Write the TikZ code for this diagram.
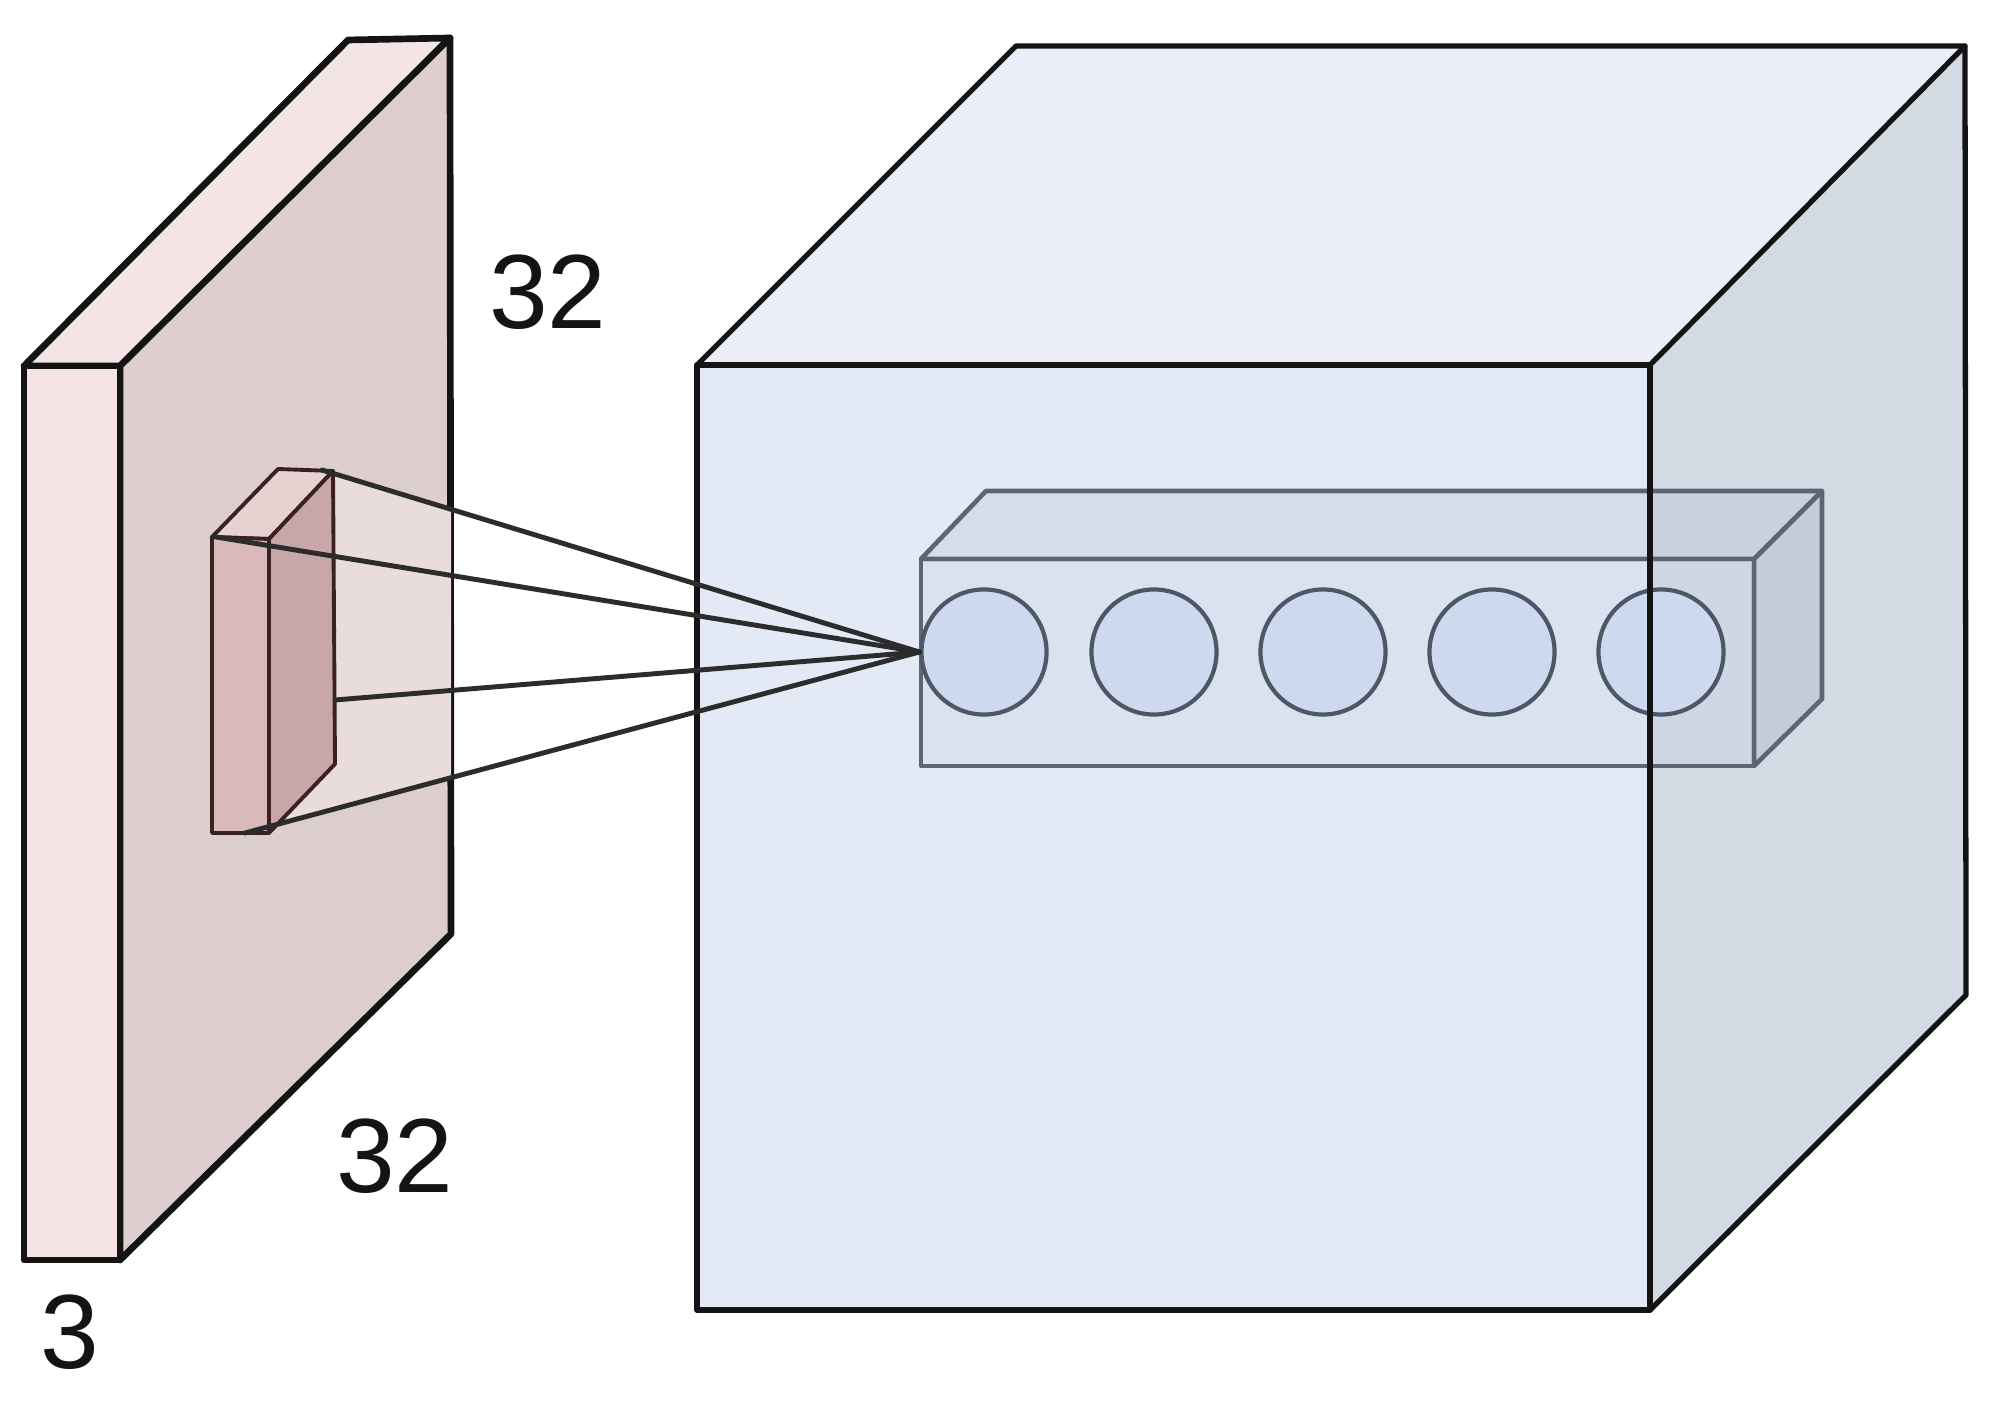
\documentclass[tikz,border=0pt]{standalone}
\usepackage{fontspec}
\setmainfont{Liberation Sans}
\begin{document}
\begin{tikzpicture}[x=0.01cm,y=-0.01cm,line join=round,line cap=round]
\definecolor{slabfront}{HTML}{F6E4E4}
\definecolor{slabtop}{HTML}{F3E5E5}
\definecolor{slabside}{HTML}{DCCECE}
\definecolor{boxfront}{HTML}{D9B9B9}
\definecolor{boxside}{HTML}{C9A6A8}
\definecolor{boxtop}{HTML}{E7D2D2}
\definecolor{cone}{HTML}{E8DCDC}
\definecolor{cubefront}{HTML}{E4EAF5}
\definecolor{cubetop}{HTML}{EBEEF8}
\definecolor{cubeside}{HTML}{D3DAE4}
\definecolor{barfront}{HTML}{C3CFE4}
\definecolor{bartop}{HTML}{B9C5D5}
\definecolor{barside}{HTML}{B0B9C6}
\definecolor{barline}{HTML}{5B6673}
\definecolor{neuronfill}{HTML}{CED9F0}
\definecolor{neuronline}{HTML}{4D5866}
\definecolor{edge}{HTML}{141414}
\definecolor{boxedge}{HTML}{3A2222}
\tikzset{
  slabface/.style={draw=edge,line width=1.9pt},
  boxface/.style={draw=boxedge,line width=1.1pt},
  cubeedge/.style={draw=edge,line width=1.5pt},
  barface/.style={draw=barline,line width=1.3pt},
  neuron/.style={circle,draw=neuronline,fill=neuronfill,line width=1.2pt,minimum size=1.25cm,inner sep=0pt},
  conn/.style={draw=edge!90,line width=1.4pt},
  dimlabel/.style={font=\fontsize{30}{36}\selectfont,inner sep=0pt,text=edge}
}
\useasboundingbox (0,0) rectangle (2000,1410);
\fill[white] (0,0) rectangle (2000,1410);

% ---- input slab 32x32x3 ----
\coordinate (sA) at (24,366);
\coordinate (sB) at (120,366);
\coordinate (sC) at (120,1260);
\coordinate (sD) at (24,1260);
\coordinate (sE) at (348,40);
\coordinate (sF) at (450,38);
\coordinate (sG) at (451,934);
\path[slabface,fill=slabtop] (sA) -- (sE) -- (sF) -- (sB) -- cycle;
\path[slabface,fill=slabside] (sB) -- (sF) -- (sG) -- (sC) -- cycle;
\path[slabface,fill=slabfront] (sA) -- (sB) -- (sC) -- (sD) -- cycle;

% ---- small receptive-field box ----
\coordinate (bA) at (212,537);
\coordinate (bB) at (269,539);
\coordinate (bC) at (269,833);
\coordinate (bD) at (212,833);
\coordinate (bE) at (278,469);
\coordinate (bF) at (333,471);
\coordinate (bG) at (335,764);
\fill[cone] (bF) -- (451,509) -- (451,778) -- (250,833) -- (bG) -- cycle;
\path[boxface,fill=boxtop] (bA) -- (bE) -- (bF) -- (bB) -- cycle;
\path[boxface,fill=boxside] (bB) -- (bF) -- (bG) -- (bC) -- cycle;
\path[boxface,fill=boxfront] (bA) -- (bB) -- (bC) -- (bD) -- cycle;

% ---- output volume (cube) faces ----
\coordinate (cA) at (697,365);
\coordinate (cB) at (1650,365);
\coordinate (cC) at (1650,1310);
\coordinate (cD) at (697,1310);
\coordinate (cE) at (1016,46);
\coordinate (cF) at (1965,46);
\coordinate (cG) at (1966,995);
\fill[cubetop] (cA) -- (cE) -- (cF) -- (cB) -- cycle;
\fill[cubeside] (cB) -- (cF) -- (cG) -- (cC) -- cycle;
\fill[cubefront] (cA) -- (cB) -- (cC) -- (cD) -- cycle;

% ---- depth column of neurons ----
\coordinate (rA) at (921,559);
\coordinate (rB) at (1754,559);
\coordinate (rC) at (1754,766);
\coordinate (rD) at (921,766);
\coordinate (rE) at (986,491);
\coordinate (rF) at (1822,491);
\coordinate (rG) at (1822,699);
\path[barface,fill=bartop,fill opacity=0.35] (rA) -- (rE) -- (rF) -- (rB) -- cycle;
\path[barface,fill=barside,fill opacity=0.4] (rB) -- (rF) -- (rG) -- (rC) -- cycle;
\path[barface,fill=barfront,fill opacity=0.3] (rA) -- (rB) -- (rC) -- (rD) -- cycle;

\node[neuron] (n1) at (984,652) {};
\node[neuron] (n2) at (1154,652) {};
\node[neuron] (n3) at (1323,652) {};
\node[neuron] (n4) at (1492,652) {};
\node[neuron] (n5) at (1661,652) {};

% ---- cube edges ----
\path[cubeedge] (cA) -- (cE) -- (cF) -- (cB) -- cycle;
\path[cubeedge] (cF) -- (cG) -- (cC);
\path[cubeedge] (cA) -- (cB) -- (cC) -- (cD) -- cycle;

% ---- connections from receptive field to first neuron ----
\coordinate (l1) at (322,470);
\coordinate (l2) at (216,537);
\coordinate (l3) at (335,700);
\coordinate (l4) at (245,833);
\path[conn] (l1) -- (n1.west);
\path[conn] (l2) -- (n1.west);
\path[conn] (l3) -- (n1.west);
\path[conn] (l4) -- (n1.west);

% ---- labels ----
\node[dimlabel] (h32) at (548,292) {32};
\node[dimlabel] (w32) at (395,1156) {32};
\node[dimlabel] (d3) at (70,1332) {3};
\end{tikzpicture}
\end{document}
